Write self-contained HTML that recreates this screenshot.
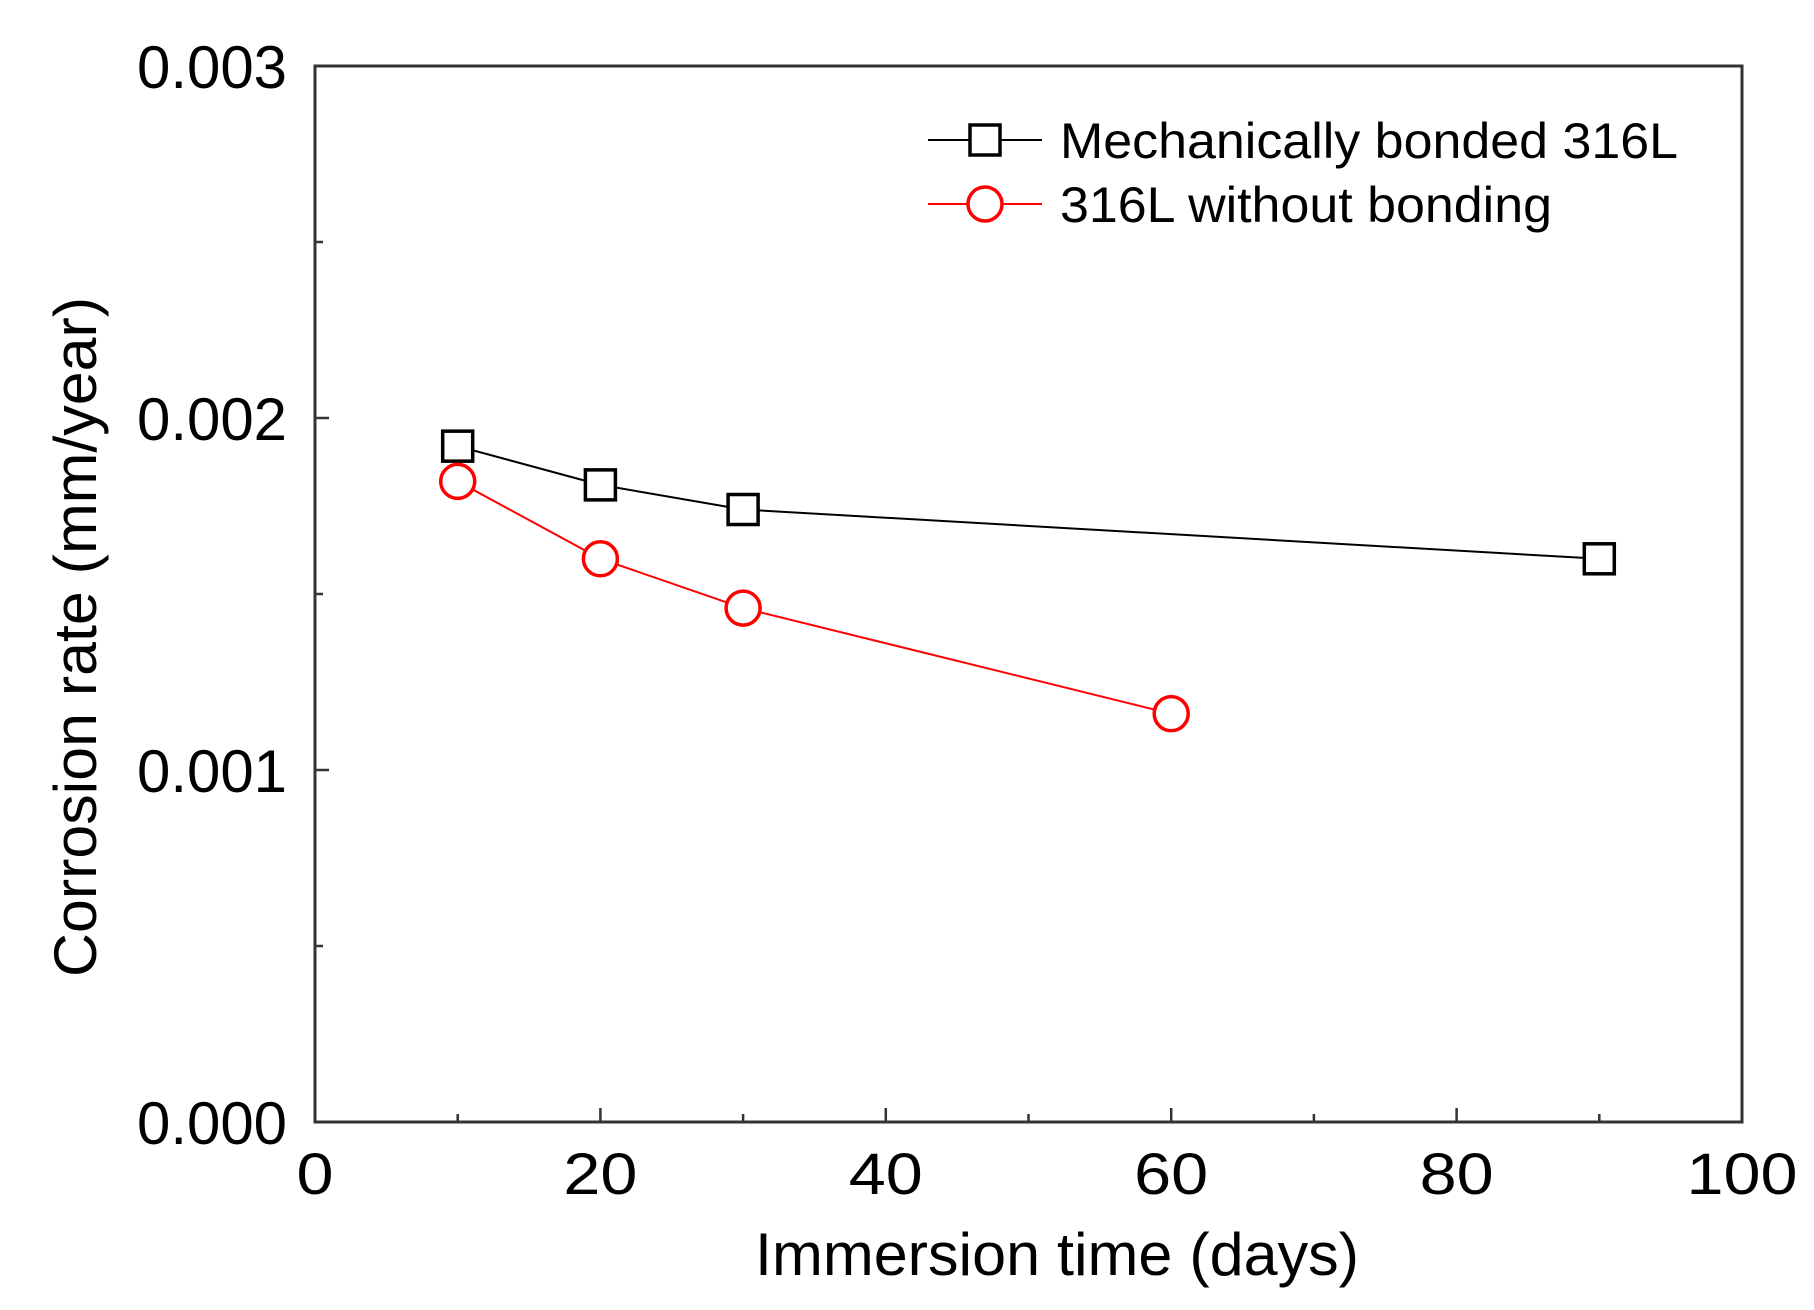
<!DOCTYPE html>
<html><head><meta charset="utf-8"><style>
html,body{margin:0;padding:0;background:#fff;}
svg{display:block;font-family:"Liberation Sans",Arial,sans-serif;}
</style></head><body>
<svg id="chart" width="1814" height="1310" viewBox="0 0 1814 1310">
<g id="axes"></g><g id="series"></g><g id="legend"></g>
</svg>
<script>
const xTicks=[0,20,40,60,80,100];
const yTicks=[0.000,0.001,0.002,0.003];
const yTickLabels=["0.000","0.001","0.002","0.003"];
const bondedX=[10,20,30,90];
const bondedY=[0.00192,0.00181,0.00174,0.00160];
const unbondedX=[10,20,30,60];
const unbondedY=[0.00182,0.00160,0.00146,0.00116];
const legendLabels=["Mechanically bonded 316L","316L without bonding"];

const L=315,R=1742,T=66,B=1122;
const xs=v=>L+(v-0)/(100-0)*(R-L);
const ys=v=>B-(v-0)/(0.003-0)*(B-T);
const NS="http://www.w3.org/2000/svg";
function mk(tag,attrs,parent){const e=document.createElementNS(NS,tag);for(const k in attrs)e.setAttribute(k,attrs[k]);parent.appendChild(e);return e;}
const axes=document.getElementById('axes'),series=document.getElementById('series'),legend=document.getElementById('legend');

let frame=mk('rect',{x:L,y:T,width:R-L,height:B-T,fill:'none',stroke:'#333',"stroke-width":3},axes);


for(let v=0;v<=100;v+=10){
  const len=(v%20===0)?14:8;
  let t=mk('line',{x1:xs(v),x2:xs(v),y1:B,y2:B-len,stroke:'#333',"stroke-width":2.5},axes);
  
  
}
for(let i=0;i<=6;i++){
  const v=i*0.0005;const len=(i%2===0)?14:8;
  let t=mk('line',{x1:L,x2:L+len,y1:ys(v),y2:ys(v),stroke:'#333',"stroke-width":2.5},axes);
  
  
}
xTicks.forEach(v=>{
  let t=mk('text',{x:xs(v),y:B+72,"text-anchor":"middle","font-size":58,fill:'#000',"textLength":(String(v).length*37),"lengthAdjust":"spacingAndGlyphs"},axes);
  t.textContent=v;
  
  
});
yTicks.forEach((v,i)=>{
  let t=mk('text',{x:287,y:ys(v)+22,"text-anchor":"end","font-size":60,fill:'#000',"textLength":150,"lengthAdjust":"spacingAndGlyphs"},axes);
  t.textContent=yTickLabels[i];
  
  
});
let xt=mk('text',{x:1057,y:1275,"text-anchor":"middle","font-size":60,fill:'#000',"textLength":604,"lengthAdjust":"spacingAndGlyphs"},axes);
xt.textContent="Immersion time (days)";


let yt=mk('text',{x:0,y:0,"text-anchor":"middle","font-size":60,fill:'#000',transform:'translate(96,637) rotate(-90)',"textLength":680,"lengthAdjust":"spacingAndGlyphs"},axes);
yt.textContent="Corrosion rate (mm/year)";



function square(cx,cy,parent){return mk('rect',{x:cx-15,y:cy-15,width:30,height:30,fill:'#fff',stroke:'#000',"stroke-width":3.5},parent);}
function circle(cx,cy,parent){return mk('circle',{cx:cx,cy:cy,r:17,fill:'#fff',stroke:'#f00',"stroke-width":3.5},parent);}

let l1=mk('polyline',{points:bondedX.map((x,i)=>xs(x)+','+ys(bondedY[i])).join(' '),fill:'none',stroke:'#000',"stroke-width":2},series);


let l2=mk('polyline',{points:unbondedX.map((x,i)=>xs(x)+','+ys(unbondedY[i])).join(' '),fill:'none',stroke:'#f00',"stroke-width":2},series);


bondedX.forEach((x,i)=>{const m=square(xs(x),ys(bondedY[i]),series);
  
  });
unbondedX.forEach((x,i)=>{const m=circle(xs(x),ys(unbondedY[i]),series);
  
  });

[[140,'#000',square,618],[204,'#f00',circle,492]].forEach((d,i)=>{
  const g=mk('g',{},legend);
  
  
  mk('line',{x1:928,x2:1042,y1:d[0],y2:d[0],stroke:d[1],"stroke-width":2},g);
  d[2](985,d[0],g);
  const t=mk('text',{x:1060,y:d[0]+18,"font-size":50,fill:'#000',"textLength":d[3],"lengthAdjust":"spacingAndGlyphs"},g);
  t.textContent=legendLabels[i];
});
</script>
</body></html>
